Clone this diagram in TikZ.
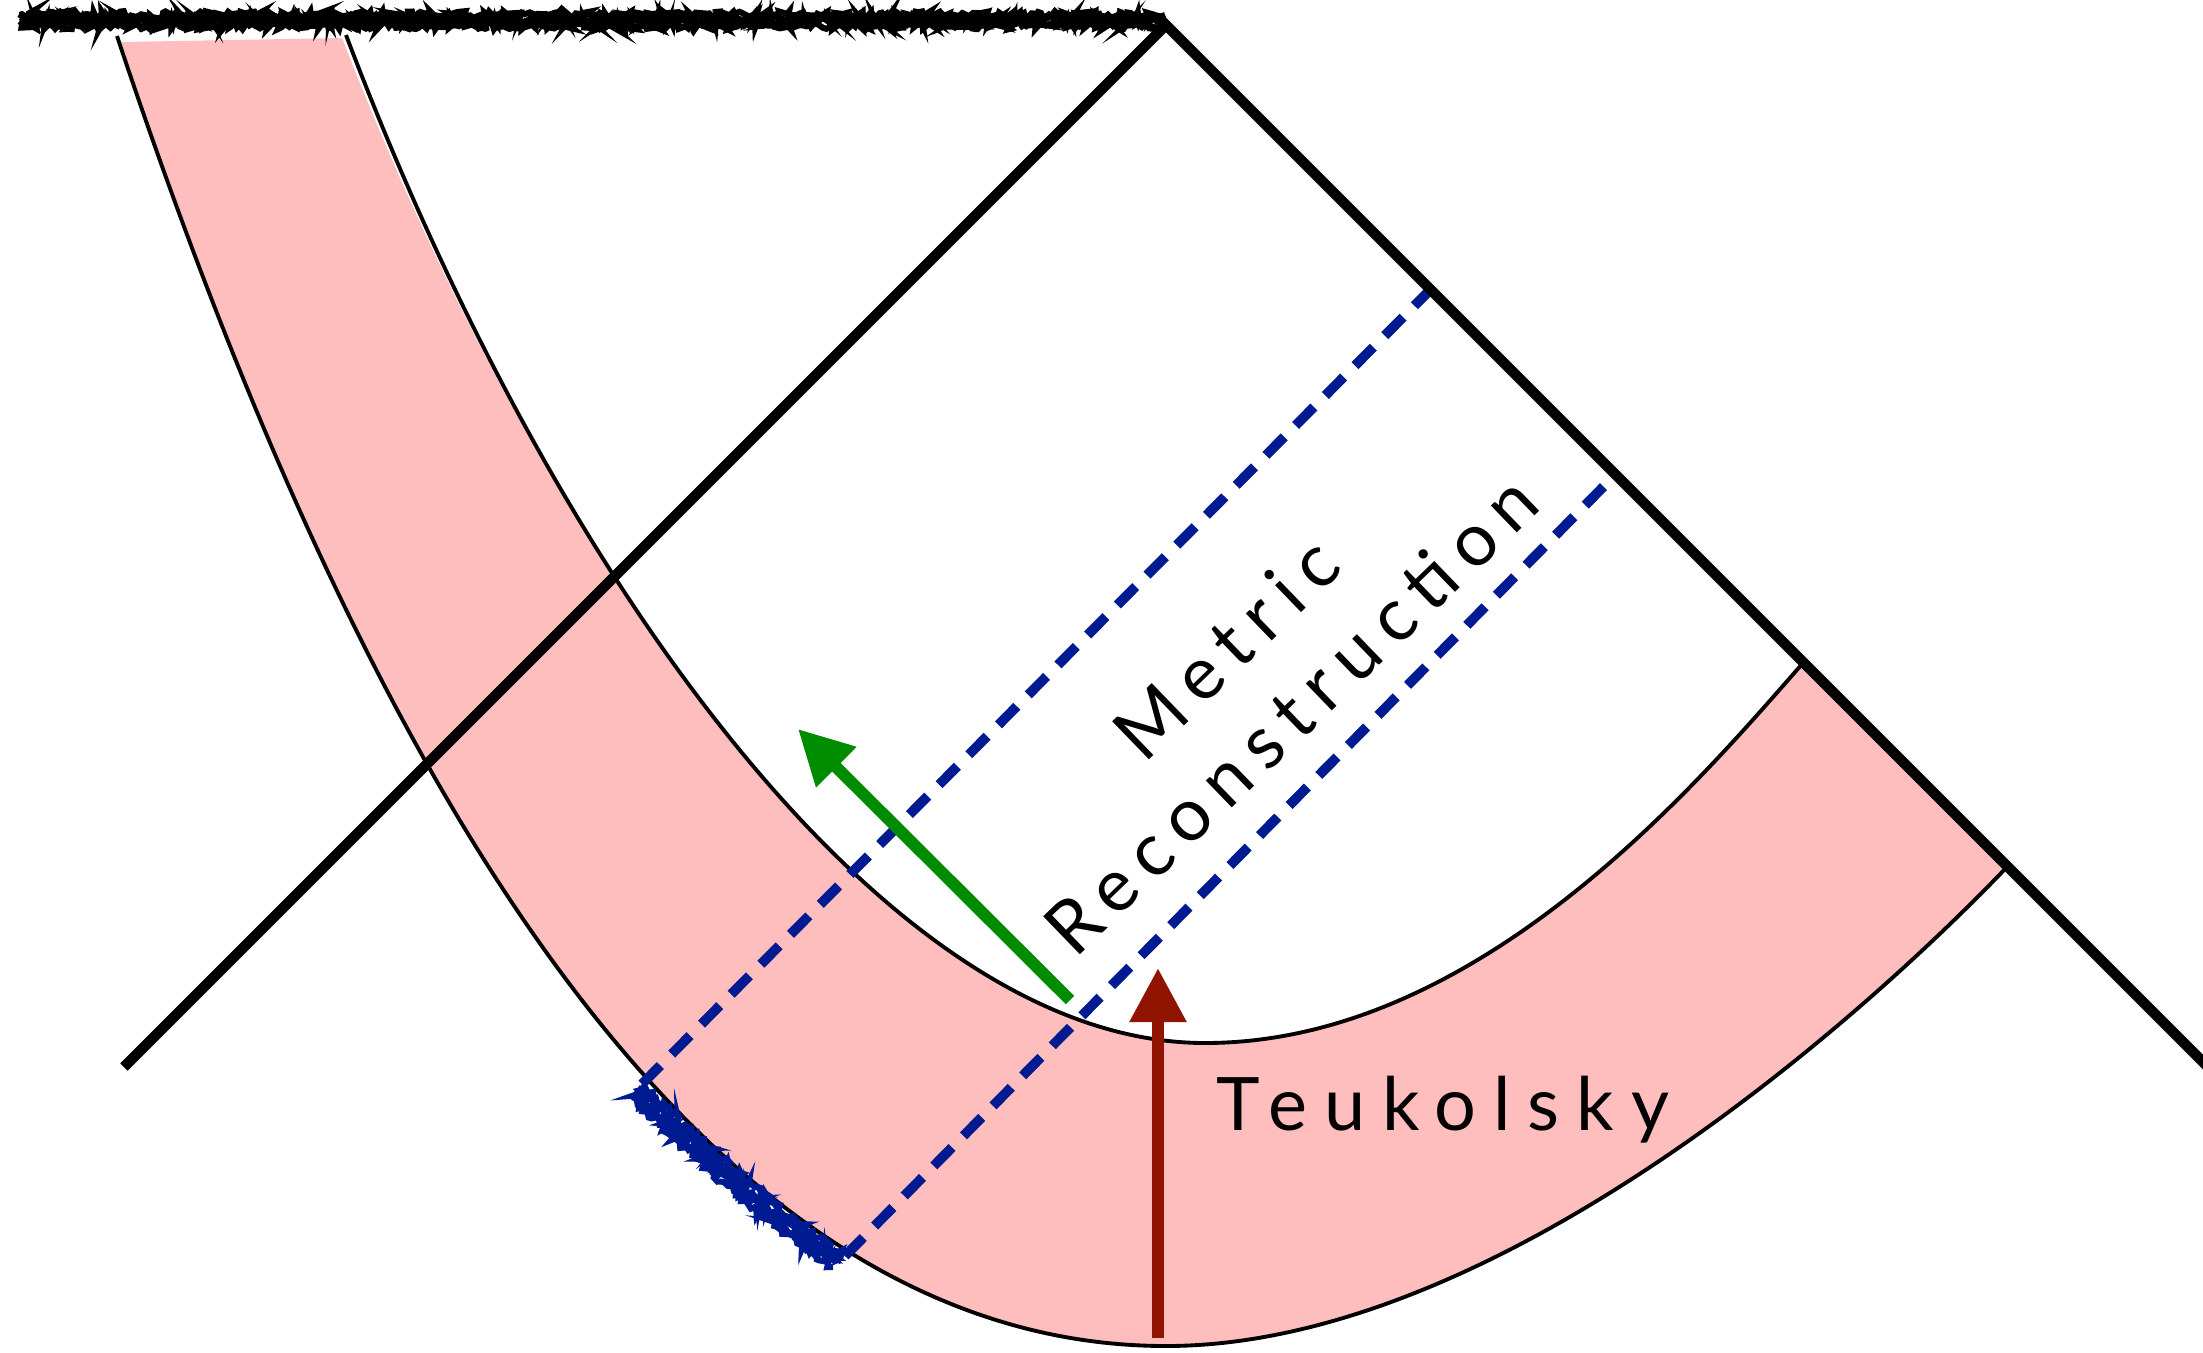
\documentclass[tikz,border=0pt]{standalone}
\usepackage{fontspec}
\newfontfamily\ktfont{Lato}[LetterSpace=18]
\newfontfamily\ktwidefont{Lato}[LetterSpace=23]
\usepackage{tikz}
\usetikzlibrary{arrows.meta,decorations.pathmorphing}
\definecolor{ktpink}{RGB}{255,190,190}
\definecolor{ktblue}{RGB}{0,26,145}
\definecolor{ktgreen}{RGB}{0,140,0}
\definecolor{ktred}{RGB}{145,20,0}
\tikzset{
 kt cone/.style={line width=3pt},
 kt curve/.style={line width=1.1pt},
 kt ray/.style={ktblue,line width=2.8pt,dash pattern=on 7.4pt off 4.6pt},
 kt rough/.style={line width=1.7pt,decorate,
                  decoration={random steps,segment length=.7pt,amplitude=1.1pt}},
 kt arrow/.style={line width=3.4pt,-{Triangle[length=15.4pt,width=15.4pt]}},
 kt label/.style={font=\ktfont\fontsize{21}{25}\selectfont,inner sep=0pt}
}

\begin{document}
\begin{tikzpicture}[x=.1mm,y=-.1mm]
 \useasboundingbox (0,0) rectangle (2203,1352);
 \pgfmathsetseed{7}
 \coordinate (apex) at (1166,25);
 \coordinate (cl) at (124,1067);
 \coordinate (cr) at (2220,1079);
 \fill[ktpink] (121,42) .. controls (369,785) and (700,1346) .. (1166,1346)
   .. controls (1500,1346) and (1870,1010) .. (2006,868) -- (1803,663)
   .. controls (1700,780) and (1480,1043) .. (1205,1043)
   .. controls (880,1043) and (545,560) .. (342,38) -- cycle;
 \draw[kt curve] (117,36) .. controls (367,785) and (700,1346) .. (1166,1346)
   .. controls (1500,1346) and (1870,1010) .. (2006,868);
 \draw[kt curve] (346,35) .. controls (545,560) and (880,1043) .. (1205,1043)
   .. controls (1480,1043) and (1700,780) .. (1803,663);
 \foreach \y in {15,18.5,22,25.5}{\draw[kt rough] (20,\y) -- (1165,\y);}
 \foreach \d in {-2,2,6,9}{
   \draw[kt rough,ktblue,shift={(-\d,\d)}] (640,1086) -- (688,1133) -- (737,1177)
     -- (790,1221) -- (842,1258);}
 \coordinate (r1s) at (642,1084);
 \coordinate (r1e) at (1430,290);
 \coordinate (r2s) at (845,1256);
 \coordinate (r2e) at (1613,477);
 \foreach \a/\b in {r1s/r1e,r2s/r2e}{\draw[kt ray] (\a)--(\b);}
 \draw[kt cone] (cl) -- (apex) -- (cr);
 \coordinate (g0) at (1070,1000);
 \coordinate (g1) at (798,729);
 \coordinate (t0) at (1158,1338);
 \coordinate (t1) at (1158,968);
 \draw[kt arrow,ktgreen] (g0) -- (g1);
 \draw[kt arrow,ktred] (t0) -- (t1);
 \node[kt label,rotate=44] (metric) at (1226,648) {Metric};
 \node[kt label,rotate=44] (recon) at (1291,714) {Reconstruction};
 \node[kt label,font=\ktwidefont\fontsize{21}{25}\selectfont,anchor=base]
   (teuk) at (1443,1130) {Teukolsky};
\end{tikzpicture}
\end{document}
